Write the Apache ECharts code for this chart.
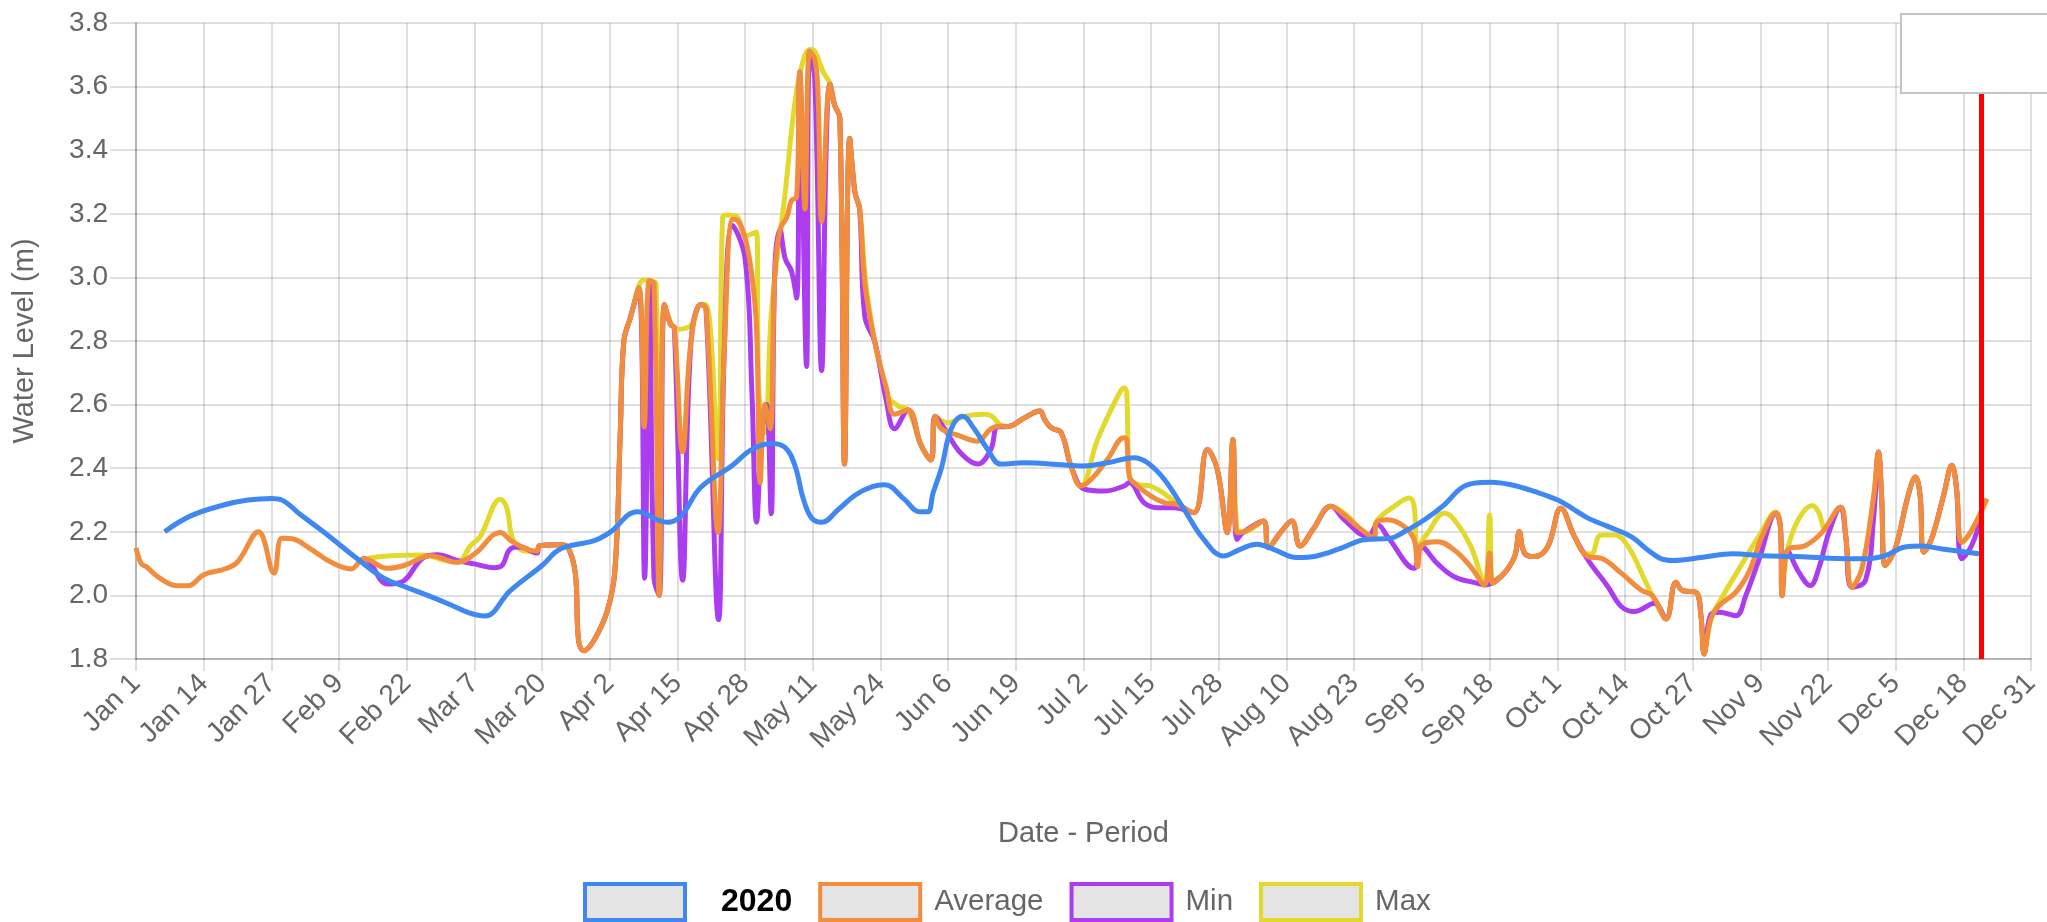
<!DOCTYPE html>
<html>
<head>
<meta charset="utf-8">
<title>Water Level</title>
<script src="https://cdn.jsdelivr.net/npm/echarts@6/dist/echarts.min.js"></script>
<style>
  html, body { margin: 0; padding: 0; background: #fff; }
  #chart { width: 2047px; height: 922px; }
</style>
</head>
<body>
<div id="chart"></div>
<script>
// x values are day-of-year (0 = Jan 1), ticks every 13 days
const tickLabels = ['Jan 1', 'Jan 14', 'Jan 27', 'Feb 9', 'Feb 22', 'Mar 7', 'Mar 20', 'Apr 2', 'Apr 15',
  'Apr 28', 'May 11', 'May 24', 'Jun 6', 'Jun 19', 'Jul 2', 'Jul 15', 'Jul 28', 'Aug 10', 'Aug 23',
  'Sep 5', 'Sep 18', 'Oct 1', 'Oct 14', 'Oct 27', 'Nov 9', 'Nov 22', 'Dec 5', 'Dec 18', 'Dec 31'];

const todayMark = 354.5;

const year2020 = [[5.5, 2.20], [10.5, 2.25], [17, 2.285], [21.5, 2.30], [26, 2.305], [28, 2.30], [31.5, 2.255],
  [36, 2.20], [42.5, 2.115], [47.5, 2.055], [52, 2.025], [56, 2.0], [60.5, 1.97], [64, 1.945], [67, 1.935],
  [71.9, 2.015], [78, 2.094], [81.5, 2.146], [88, 2.172], [91, 2.198], [96.3, 2.263], [102, 2.23], [104.7, 2.25],
  [108.5, 2.34], [114.4, 2.407], [118.3, 2.459], [122.1, 2.478], [124.7, 2.465], [126.6, 2.407], [128.2, 2.302],
  [129.8, 2.243], [131.7, 2.23], [134.9, 2.27], [138.1, 2.315], [141.3, 2.341], [143.8, 2.348], [147.6, 2.302],
  [150.5, 2.263], [152.1, 2.263], [153.1, 2.322], [154.7, 2.40], [156.6, 2.524], [158.8, 2.563], [161, 2.524],
  [163.6, 2.459], [166.1, 2.413], [170.7, 2.417], [177, 2.412], [182, 2.407], [186.6, 2.417], [191.7, 2.433],
  [194.3, 2.417], [197.5, 2.365], [201.3, 2.271], [205.1, 2.176], [208.9, 2.124], [212.1, 2.145], [215.3, 2.161],
  [218.5, 2.145], [223, 2.119], [226.8, 2.124], [231.4, 2.148], [235.9, 2.175], [241, 2.18], [243.6, 2.20],
  [247.5, 2.238], [251.3, 2.285], [254.5, 2.337], [257.1, 2.353], [260.3, 2.356], [264.1, 2.348], [268.6, 2.327],
  [273.1, 2.30], [276.3, 2.269], [278.9, 2.243], [282.7, 2.217], [287.2, 2.185], [290.4, 2.143], [293, 2.115],
  [295.2, 2.11], [301, 2.12], [306.7, 2.131], [312.4, 2.125], [318.8, 2.122], [325.2, 2.117], [332.2, 2.115],
  [336, 2.125], [339.8, 2.152], [343, 2.155], [346.9, 2.146], [350.7, 2.138], [354, 2.131]];

const average = [[0, 2.15], [1, 2.10], [2, 2.09], [4.5, 2.055], [8, 2.03], [10, 2.03], [13, 2.065], [17, 2.083],
  [19.5, 2.105], [23.5, 2.20], [26.5, 2.07], [28, 2.18], [30, 2.178], [33.5, 2.146], [37.5, 2.104], [41.3, 2.083],
  [43.8, 2.115], [48.3, 2.085], [51.5, 2.094], [56.6, 2.125], [61.7, 2.104], [65, 2.13], [70, 2.198], [72, 2.172],
  [75, 2.146], [77, 2.139], [77.5, 2.156], [81.5, 2.159], [83, 2.15], [84.4, 2.067], [85, 1.86], [86, 1.826],
  [88, 1.86], [90.5, 1.95], [92, 2.08], [93, 2.5], [93.7, 2.798], [95, 2.876], [96.6, 2.967], [97.6, 2.53],
  [98.6, 2.99], [99.5, 2.98], [100.5, 2.0], [101.5, 2.915], [102.7, 2.85], [103.4, 2.843], [105, 2.452],
  [106.6, 2.798], [108.5, 2.915], [109.5, 2.9], [111.8, 2.198], [113, 2.772], [114.6, 3.183], [115.5, 3.18],
  [117, 3.124], [118.3, 3.006], [119.2, 2.837], [119.9, 2.354], [120.8, 2.6], [121.8, 2.524], [122.7, 3.006],
  [123.7, 3.15], [125, 3.189], [125.9, 3.241], [126.9, 3.254], [127.5, 3.646], [128.5, 3.215], [129.4, 3.711],
  [130.4, 3.685], [131, 3.58], [131.7, 3.176], [133.3, 3.607], [134.2, 3.541], [135.2, 3.502], [136.1, 2.413],
  [137.1, 3.437], [138.1, 3.267], [139, 3.215], [140, 2.98], [141.9, 2.798], [144.1, 2.654], [145.7, 2.57],
  [148.3, 2.583], [150.8, 2.472], [152.7, 2.426], [153.5, 2.563], [154.7, 2.524], [157.8, 2.504], [161.7, 2.485],
  [164.2, 2.524], [166.3, 2.533], [167.5, 2.531], [170.7, 2.559], [173.6, 2.58], [174.5, 2.554], [175.8, 2.527],
  [177.7, 2.512], [179.6, 2.407], [181.5, 2.344], [183.5, 2.365], [186.6, 2.428], [189.8, 2.496], [190.3, 2.49],
  [190.8, 2.375], [192.4, 2.344], [194.9, 2.313], [197.5, 2.292], [200, 2.286], [203.2, 2.26], [205.8, 2.459],
  [207.7, 2.396], [209.6, 2.197], [210.7, 2.49], [211.5, 2.197], [212.8, 2.2], [216.6, 2.234], [217.5, 2.15],
  [219.8, 2.197], [222, 2.234], [223.6, 2.155], [226.1, 2.208], [229.5, 2.28], [232.1, 2.253], [234.6, 2.217],
  [237.2, 2.185], [237.9, 2.18], [238.2, 2.227], [240.4, 2.238], [243.6, 2.217], [245.5, 2.175], [246.2, 2.09],
  [246.8, 2.154], [250, 2.169], [253.2, 2.143], [256.4, 2.09], [259, 2.033], [260, 2.133], [260.6, 2.038],
  [262.8, 2.07], [264.8, 2.122], [265.7, 2.2], [266.7, 2.133], [268.6, 2.122], [271.2, 2.154], [273.7, 2.274],
  [276.3, 2.185], [278.9, 2.122], [281.4, 2.117], [285.3, 2.07], [289.1, 2.017], [291.3, 1.999], [293.9, 1.926],
  [295.8, 2.041], [297.1, 2.015], [299.6, 2.01], [300.6, 1.936], [301.2, 1.816], [302.5, 1.926], [304.1, 1.968],
  [307.3, 2.01], [309.8, 2.073], [312.4, 2.188], [315, 2.259], [315.9, 2.209], [316.2, 1.999], [317.2, 2.141],
  [320.7, 2.157], [323.9, 2.199], [327.4, 2.277], [328.4, 2.188], [329.6, 2.026], [331.5, 2.083], [333.8, 2.314],
  [334.7, 2.451], [335.3, 2.314], [336, 2.094], [337.9, 2.146], [340.4, 2.314], [341.8, 2.372], [342.7, 2.314],
  [343.4, 2.136], [344.9, 2.178], [347.2, 2.314], [348.8, 2.409], [349.7, 2.335], [350.7, 2.167], [352.6, 2.204],
  [355.5, 2.304]];

const minimum = [[42.6, 2.104], [43.8, 2.115], [48.3, 2.036], [50.9, 2.041], [55.3, 2.12], [57.9, 2.128],
  [61.7, 2.11], [65, 2.099], [68.7, 2.087], [70.3, 2.094], [71.9, 2.146], [73.8, 2.152], [77, 2.133],
  [77.5, 2.156], [81.5, 2.159], [83, 2.15], [84.4, 2.067], [85, 1.86], [86, 1.826], [88, 1.86], [90.5, 1.95],
  [92, 2.08], [93, 2.5], [93.7, 2.798], [95, 2.876], [96.6, 2.967], [97.7, 2.054], [98.6, 2.98], [99.5, 2.054],
  [100.5, 2.0], [101.5, 2.915], [102.7, 2.85], [103.4, 2.843], [105, 2.048], [106.6, 2.798], [108.5, 2.915],
  [109.5, 2.9], [111.9, 1.924], [113, 2.772], [114.6, 3.163], [117, 3.059], [118.3, 2.641], [119.2, 2.23],
  [120.2, 2.511], [121.1, 2.6], [122, 2.257], [122.7, 3.02], [123.7, 3.15], [124.7, 3.059], [125.9, 3.02],
  [126.9, 2.935], [127.5, 3.646], [128.8, 2.72], [129.4, 3.711], [130.4, 3.62], [131.7, 2.707], [132.6, 3.424],
  [133.3, 3.607], [134.2, 3.541], [135.2, 3.502], [136.1, 2.413], [137.1, 3.437], [138.1, 3.267], [139, 3.215],
  [140, 2.876], [141.9, 2.798], [144.1, 2.615], [145.7, 2.524], [148.3, 2.583], [150.8, 2.472], [152.7, 2.426],
  [153.5, 2.563], [155.3, 2.524], [158.5, 2.446], [161.7, 2.413], [164.2, 2.459], [165.5, 2.53], [167.5, 2.531],
  [170.7, 2.559], [173.6, 2.58], [174.5, 2.554], [175.8, 2.527], [177.7, 2.512], [179.6, 2.407], [182.2, 2.334],
  [186, 2.328], [189.8, 2.344], [190.8, 2.355], [193.6, 2.292], [196.2, 2.276], [199.4, 2.276], [203.2, 2.26],
  [205.8, 2.459], [207.7, 2.396], [209.6, 2.197], [210.7, 2.49], [211.5, 2.176], [212.8, 2.2], [216.6, 2.234],
  [217.5, 2.15], [219.8, 2.197], [222, 2.234], [223.6, 2.155], [226.1, 2.208], [229.5, 2.28], [232.1, 2.238],
  [236.6, 2.185], [238.5, 2.222], [240.4, 2.185], [245.5, 2.085], [246.8, 2.154], [250, 2.1], [253.2, 2.059],
  [257.7, 2.038], [259, 2.033], [262.2, 2.059], [264.8, 2.122], [265.7, 2.2], [266.7, 2.133], [268.6, 2.122],
  [271.2, 2.154], [273.7, 2.274], [276.3, 2.185], [278.9, 2.112], [282.7, 2.028], [285.3, 1.965], [287.8, 1.949],
  [291.7, 1.975], [293.9, 1.926], [295.8, 2.041], [297.1, 2.015], [299.6, 2.01], [300.6, 1.936], [301.2, 1.816],
  [302.5, 1.94], [304.1, 1.947], [307.3, 1.936], [309.2, 1.999], [311.8, 2.115], [315, 2.257], [315.9, 2.209],
  [316.2, 1.999], [317.2, 2.141], [319.4, 2.073], [321.6, 2.031], [323.2, 2.083], [325.2, 2.199], [327.4, 2.277],
  [328.4, 2.188], [329.6, 2.026], [332.2, 2.047], [333.8, 2.25], [334.7, 2.451], [335.3, 2.314], [336, 2.094],
  [337.9, 2.146], [340.4, 2.314], [341.8, 2.372], [342.7, 2.314], [343.4, 2.136], [344.9, 2.178], [347.2, 2.314],
  [348.8, 2.409], [349.7, 2.335], [350.7, 2.115], [352.6, 2.157], [354.5, 2.251]];

const maximum = [[42.6, 2.104], [43.8, 2.115], [49, 2.125], [55.3, 2.127], [59.2, 2.11], [61.7, 2.104],
  [64.3, 2.157], [66.1, 2.185], [70, 2.302], [71.2, 2.276], [72.5, 2.172], [75, 2.139], [77, 2.139],
  [77.5, 2.156], [81.5, 2.159], [83, 2.15], [84.4, 2.067], [85, 1.86], [86, 1.826], [88, 1.86], [90.5, 1.95],
  [92, 2.08], [93, 2.5], [93.7, 2.798], [95, 2.876], [97.6, 2.993], [98.6, 2.99], [99.9, 2.98], [100.5, 2.0],
  [101.5, 2.915], [104, 2.837], [106.6, 2.85], [108.5, 2.915], [109.5, 2.915], [111.8, 2.43], [112.7, 3.19],
  [113.7, 3.196], [115.5, 3.19], [117, 3.13], [119.2, 3.143], [119.6, 2.654], [120.8, 2.511], [122.1, 2.9],
  [124.7, 3.267], [126.6, 3.554], [128.2, 3.685], [129.4, 3.717], [130.4, 3.711], [132, 3.646], [133.3, 3.61],
  [134.2, 3.541], [135.2, 3.502], [136.1, 2.413], [137.1, 3.437], [138.1, 3.267], [139, 3.215], [140.6, 2.928],
  [144.4, 2.628], [146.4, 2.596], [148.3, 2.583], [150.8, 2.472], [152.7, 2.426], [153.5, 2.563], [155.9, 2.543],
  [159.1, 2.563], [162.9, 2.57], [164.4, 2.564], [166.3, 2.533], [167.5, 2.531], [170.7, 2.559], [173.6, 2.58],
  [174.5, 2.554], [175.8, 2.527], [177.7, 2.512], [179.6, 2.407], [181.5, 2.344], [184.7, 2.49], [188.6, 2.627],
  [189.8, 2.653], [190.3, 2.638], [190.8, 2.375], [192.4, 2.349], [194.9, 2.344], [198.1, 2.313], [200, 2.286],
  [203.2, 2.26], [205.8, 2.459], [207.7, 2.396], [209.6, 2.197], [210.7, 2.49], [211.5, 2.21], [212.8, 2.2],
  [216.6, 2.234], [217.5, 2.15], [219.8, 2.197], [222, 2.234], [223.6, 2.155], [226.1, 2.208], [229.5, 2.28],
  [232.1, 2.258], [237, 2.19], [238.5, 2.238], [241.7, 2.28], [244.6, 2.306], [245.5, 2.28], [246.2, 2.154],
  [248.1, 2.196], [251.3, 2.258], [253.2, 2.238], [256.4, 2.154], [259, 2.038], [260, 2.253], [260.6, 2.045],
  [262.8, 2.07], [264.8, 2.122], [265.7, 2.2], [266.7, 2.133], [268.6, 2.122], [271.2, 2.154], [273.7, 2.274],
  [276.3, 2.185], [278.2, 2.133], [279.5, 2.13], [281.4, 2.19], [284, 2.19], [286.6, 2.154], [289.8, 2.049],
  [292.3, 1.965], [293.9, 1.926], [295.8, 2.041], [297.1, 2.015], [299.6, 2.01], [300.6, 1.936], [301.2, 1.816],
  [302.5, 1.926], [304.1, 1.978], [307.9, 2.083], [311.8, 2.188], [315, 2.262], [315.9, 2.209], [316.2, 1.999],
  [317.2, 2.141], [319.4, 2.241], [322, 2.283], [323.2, 2.262], [324.5, 2.209], [327.4, 2.277], [328.4, 2.188],
  [329.6, 2.026], [331.5, 2.083], [333.8, 2.314], [334.7, 2.451], [335.3, 2.314], [336, 2.094], [337.9, 2.146],
  [340.4, 2.314], [341.8, 2.372], [342.7, 2.314], [343.4, 2.136], [344.9, 2.178], [347.2, 2.314], [348.8, 2.409],
  [349.7, 2.335], [350.7, 2.167], [352.6, 2.204], [355.5, 2.304]];

const colors = { '2020': '#3f88f2', Average: '#f18d3d', Min: '#ac3cf0', Max: '#e3d92c' };

const chart = echarts.init(document.getElementById('chart'));
const font = 'Liberation Sans, Arial, sans-serif';
const gridColor = 'rgba(0,0,0,0.12)';

// line series helper, later series are drawn on top
const line = (name, data, z) => ({
  name: name,
  type: 'line',
  data: data,
  smooth: 0.4,
  showSymbol: false,
  z: z,
  lineStyle: { color: colors[name], width: 5 },
  itemStyle: { color: colors[name] }
});

const blueSeries = line('2020', year2020, 5);
blueSeries.markLine = {
  silent: true,
  symbol: 'none',
  label: { show: false },
  lineStyle: { color: '#ff0000', width: 5, type: 'solid' },
  data: [{ xAxis: todayMark }]
};

chart.setOption({
  animation: false,
  textStyle: { fontFamily: font },
  grid: { left: 136, right: 16, top: 23, bottom: 263, outerBoundsMode: 'none', containLabel: false },
  legend: {
    data: ['2020', 'Average', 'Min', 'Max'].map(n => ({
      name: n,
      itemStyle: { color: '#e4e4e4', borderColor: colors[n], borderWidth: 4 }
    })),
    top: 877,
    left: 578,
    icon: 'rect',
    itemWidth: 100,
    itemHeight: 36,
    itemGap: 26,
    textStyle: {
      fontSize: 29.5, color: '#666', fontFamily: font, padding: [0, 0, 0, 9],
      rich: { y: { fontSize: 32, fontWeight: 'bold', color: '#000', fontFamily: font, padding: [0, 8, 0, 22] } }
    },
    formatter: name => name === '2020' ? '{y|2020}' : name
  },
  xAxis: {
    type: 'value',
    min: 0,
    max: 364,
    interval: 13,
    name: 'Date - Period',
    nameLocation: 'middle',
    nameGap: 160,
    nameTextStyle: { fontSize: 29, color: '#666' },
    axisLine: { show: true, lineStyle: { color: 'rgba(0,0,0,0.2)', width: 2 } },
    axisTick: { show: true, length: 12, lineStyle: { color: gridColor, width: 2 } },
    splitLine: { show: true, lineStyle: { color: gridColor, width: 2 } },
    axisLabel: {
      rotate: 45,
      margin: 20,
      fontSize: 28,
      color: '#666',
      showMaxLabel: true,
      formatter: v => tickLabels[Math.round(v / 13)]
    }
  },
  yAxis: {
    type: 'value',
    min: 1.8,
    max: 3.8,
    interval: 0.2,
    name: 'Water Level (m)',
    nameLocation: 'middle',
    nameRotate: 90,
    nameGap: 97,
    nameTextStyle: { fontSize: 29, color: '#666' },
    axisLine: { show: true, lineStyle: { color: 'rgba(0,0,0,0.2)', width: 2 } },
    axisTick: { show: true, length: 26, lineStyle: { color: gridColor, width: 2 } },
    splitLine: { show: true, lineStyle: { color: gridColor, width: 2 } },
    axisLabel: { fontSize: 28, color: '#666', margin: 28, formatter: v => v.toFixed(1) }
  },
  graphic: [{
    type: 'rect',
    z: 100,
    shape: { x: 1901, y: 14, width: 170, height: 79 },
    style: { fill: '#fff', stroke: '#c4c4c4', lineWidth: 2 }
  }],
  series: [
    line('Max', maximum, 2),
    line('Min', minimum, 3),
    line('Average', average, 4),
    blueSeries
  ]
});
</script>
</body>
</html>
